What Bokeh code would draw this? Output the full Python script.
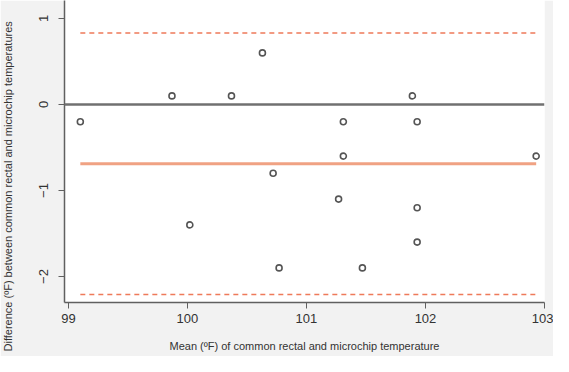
from bokeh.plotting import figure
from bokeh.models import Span, FixedTicker, Range1d, Title
from bokeh.embed import file_html
from bokeh.resources import INLINE

# Data (Bland-Altman plot)
mean_temp = [99.10, 99.87, 100.37, 100.63, 101.89, 101.31, 101.93,
             101.31, 102.93, 100.72, 100.02, 100.77, 101.27, 101.93,
             101.93, 101.47]
diff_temp = [-0.2, 0.1, 0.1, 0.6, 0.1, -0.2, -0.2,
             -0.6, -0.6, -0.8, -1.4, -1.9, -1.1, -1.2,
             -1.6, -1.9]
mean_diff = -0.69
upper_loa = 0.83
lower_loa = -2.21
x_ticks = [99, 100, 101, 102, 103]
y_ticks = [-2, -1, 0, 1]
x_title = "Mean (ºF) of common rectal and microchip temperature"
y_title = "Difference (ºF) between common rectal and microchip temperatures"

p = figure(width=553, height=356, output_backend="svg", toolbar_location=None,
           x_range=Range1d(98.967, 103.0), y_range=Range1d(-2.302, 1.209),
           min_border_left=64, min_border_right=9, min_border_top=0,
           min_border_bottom=54)
p.border_fill_color = "#f2f2f2"
p.background_fill_color = "white"
p.outline_line_color = None
p.grid.visible = False

xmin, xmax = min(mean_temp), max(mean_temp)

p.add_layout(Span(location=0, dimension="width", line_color="#707070", line_width=2.5))
p.line([xmin, xmax], [mean_diff, mean_diff], line_color="#f0a283", line_width=3)
p.line([xmin, xmax], [upper_loa, upper_loa], line_color="#ee7a5a", line_width=1.5, line_dash="5 4")
p.line([xmin, xmax], [lower_loa, lower_loa], line_color="#ee7a5a", line_width=1.5, line_dash="5 4")

p.scatter(mean_temp, diff_temp, marker="circle", size=6, fill_color=None,
          line_color="#555555", line_width=1.6)

p.xaxis.ticker = FixedTicker(ticks=x_ticks)
p.yaxis.ticker = FixedTicker(ticks=y_ticks)
for ax in (p.xaxis, p.yaxis):
    ax.axis_line_color = "#606060"
    ax.axis_line_width = 1.5
    ax.major_tick_line_color = "#606060"
    ax.major_tick_out = 6
    ax.major_tick_in = 0
    ax.minor_tick_line_color = None
    ax.major_label_text_font = "Liberation Sans"
    ax.major_label_text_font_size = "13px"
    ax.major_label_text_color = "#333333"
    ax.axis_label_text_font = "Liberation Sans"
    ax.axis_label_text_font_size = "11px"
    ax.axis_label_text_font_style = "normal"
    ax.axis_label_text_color = "#333333"

p.yaxis.major_label_orientation = "vertical"
p.yaxis.major_label_standoff = 10
p.yaxis.axis_label = " "
p.yaxis.axis_label_standoff = 5
p.xaxis.axis_label = x_title
p.xaxis.axis_label_standoff = 14

# y-axis title as a side title so it can extend below the frame, as in the reference
yt = Title(text=y_title, align="left", offset=-49, vertical_align="top", standoff=2,
           text_font="Liberation Sans", text_font_size="11px",
           text_font_style="normal", text_color="#333333")
p.add_layout(yt, "left")

open("out.html", "w").write(file_html(p, INLINE))
